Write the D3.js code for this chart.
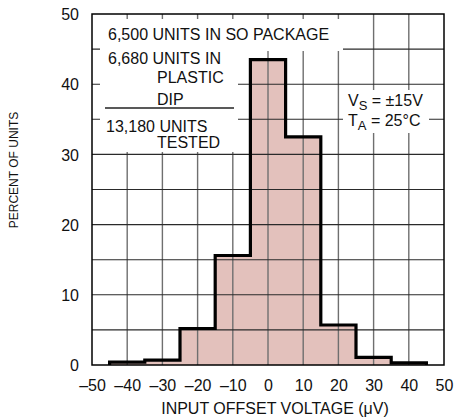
<!DOCTYPE html>
<html lang="en">
<head>
  <meta charset="UTF-8">
  <title>Input Offset Voltage Distribution</title>
  <script src="https://d3js.org/d3.v7.min.js"></script>
</head>
<style>
  body{
    margin:0;
    background:white;
    font-family: "Liberation Sans", Arial, Helvetica, sans-serif;
  }
</style>
<body>
  <div id="chart"></div>
<script>
// histogram bins (left edge of each 10uV bin) and percent of units
var binStarts = [-45, -35, -25, -15, -5, 5, 15, 25, 35];
var binWidth = 10;
var percents = [0.4, 0.7, 5.2, 15.6, 43.5, 32.5, 5.7, 1.1, 0.3];

// tick values
var xTicks = [-50, -40, -30, -20, -10, 0, 10, 20, 30, 40, 50];
var yTicks = [0, 10, 20, 30, 40, 50];
var yGrid = [5, 10, 15, 20, 25, 30, 35, 40, 45];

// annotation text
var noteLines = ["6,500 UNITS IN SO PACKAGE", "6,680 UNITS IN", "PLASTIC", "DIP", "13,180 UNITS", "TESTED"];

var width = 456, height = 419;
// plot edges (note: "top" is reserved on window, so use plot* names)
var plotLeft = 92, plotRight = 444, plotTop = 14, plotBottom = 365;

var svg = d3.select("#chart").append("svg")
  .attr("width", width)
  .attr("height", height);

var x = d3.scaleLinear().domain([-50, 50]).range([plotLeft, plotRight]);
var y = d3.scaleLinear().domain([0, 50]).range([plotBottom, plotTop]);

// build the step outline from the bins
var pts = [[binStarts[0], 0]];
binStarts.forEach(function(b, i){
  pts.push([b, percents[i]]);
  pts.push([b + binWidth, percents[i]]);
});
pts.push([binStarts[binStarts.length - 1] + binWidth, 0]);

var line = d3.line()
  .x(function(d){ return x(d[0]); })
  .y(function(d){ return y(d[1]); });

// pink fill under the histogram
svg.append("path")
  .attr("d", line(pts) + "Z")
  .attr("fill", "#e3c1bc")
  .attr("stroke", "none");

// grid lines
svg.append("g").selectAll("line")
  .data(xTicks.slice(1, -1))
  .enter().append("line")
  .attr("x1", function(d){ return x(d); })
  .attr("x2", function(d){ return x(d); })
  .attr("y1", plotTop)
  .attr("y2", plotBottom)
  .attr("stroke", "#6f6f6f")
  .attr("stroke-width", 1.4);

svg.append("g").selectAll("line")
  .data(yGrid)
  .enter().append("line")
  .attr("x1", plotLeft)
  .attr("x2", plotRight)
  .attr("y1", function(d){ return y(d); })
  .attr("y2", function(d){ return y(d); })
  .attr("stroke", "#2a2a2a")
  .attr("stroke-width", 1.1);

// white boxes behind the notes
var boxes = [
  [100, 19, 243, 32],
  [100, 19, 138, 133],
  [343, 90, 86, 43]
];
svg.append("g").selectAll("rect")
  .data(boxes)
  .enter().append("rect")
  .attr("x", function(d){ return d[0]; })
  .attr("y", function(d){ return d[1]; })
  .attr("width", function(d){ return d[2]; })
  .attr("height", function(d){ return d[3]; })
  .attr("fill", "white");

// histogram outline
svg.append("path")
  .attr("d", line(pts))
  .attr("fill", "none")
  .attr("stroke", "black")
  .attr("stroke-width", 3.2)
  .attr("stroke-linejoin", "miter");

// plot frame
svg.append("rect")
  .attr("x", plotLeft)
  .attr("y", plotTop)
  .attr("width", plotRight - plotLeft)
  .attr("height", plotBottom - plotTop)
  .attr("fill", "none")
  .attr("stroke", "black")
  .attr("stroke-width", 1.5);

var fmt = function(d){ return d < 0 ? "\u2013" + Math.abs(d) : String(d); };

// axes (labels only)
var xAxis = svg.append("g")
  .attr("transform", "translate(0," + plotBottom + ")")
  .call(d3.axisBottom(x).tickValues(xTicks).tickSize(0).tickPadding(0).tickFormat(fmt));
xAxis.select(".domain").remove();
xAxis.selectAll("text")
  .attr("y", 26)
  .attr("dy", 0)
  .attr("font-size", 16)
  .attr("font-family", "'Liberation Sans', Arial, sans-serif")
  .attr("fill", "#111");

var yAxis = svg.append("g")
  .attr("transform", "translate(" + plotLeft + ",0)")
  .call(d3.axisLeft(y).tickValues(yTicks).tickSize(0).tickPadding(0).tickFormat(fmt));
yAxis.select(".domain").remove();
yAxis.selectAll("text")
  .attr("x", -13)
  .attr("dy", "0.36em")
  .attr("font-size", 16)
  .attr("font-family", "'Liberation Sans', Arial, sans-serif")
  .attr("fill", "#111");

// axis titles
svg.append("text")
  .attr("x", 275)
  .attr("y", 414)
  .attr("text-anchor", "middle")
  .attr("font-size", 16)
  .attr("fill", "#111")
  .text("INPUT OFFSET VOLTAGE (\u03BCV)");

svg.append("text")
  .attr("transform", "translate(18,170) rotate(-90)")
  .attr("text-anchor", "middle")
  .attr("font-size", 12)
  .attr("fill", "#111")
  .text("PERCENT OF UNITS");

// note block
var notePos = [[108, 40], [108, 64], [157, 83], [157, 105], [106, 132], [157, 148]];
svg.append("g").selectAll("text")
  .data(noteLines)
  .enter().append("text")
  .attr("x", function(d, i){ return notePos[i][0]; })
  .attr("y", function(d, i){ return notePos[i][1]; })
  .attr("font-size", 16)
  .attr("fill", "#111")
  .text(function(d){ return d; });

svg.append("line")
  .attr("x1", 105).attr("x2", 234)
  .attr("y1", 108).attr("y2", 108)
  .attr("stroke", "#222")
  .attr("stroke-width", 1.5);

// conditions
var vs = svg.append("text").attr("x", 348).attr("y", 106).attr("font-size", 16).attr("fill", "#111");
vs.append("tspan").text("V");
vs.append("tspan").attr("dy", 4).attr("font-size", 13).text("S");
vs.append("tspan").attr("dy", -4).text(" = \u00B115V");

var ta = svg.append("text").attr("x", 348).attr("y", 126).attr("font-size", 16).attr("fill", "#111");
ta.append("tspan").text("T");
ta.append("tspan").attr("dy", 4).attr("font-size", 13).text("A");
ta.append("tspan").attr("dy", -4).text(" = 25\u00B0C");
</script>
</body>
</html>
